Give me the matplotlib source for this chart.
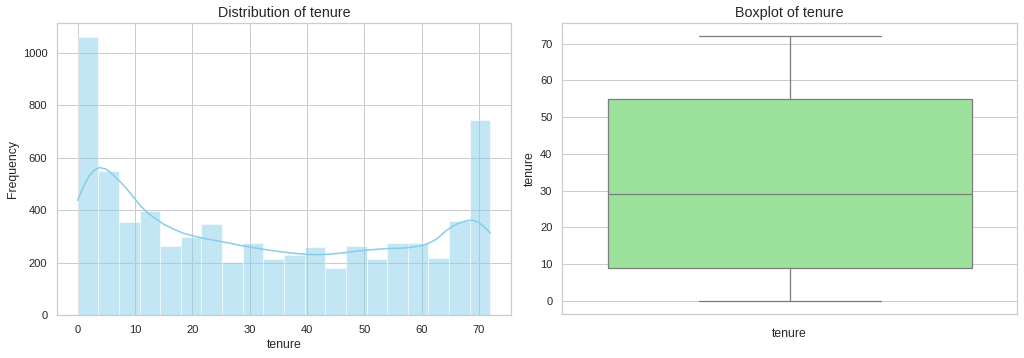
import numpy as np
import matplotlib
matplotlib.use("Agg")
import matplotlib.pyplot as plt
import seaborn as sns
import colorsys
from matplotlib.colors import to_rgb

# ---- data ----
bin_start = 0
bin_end = 72
hist_counts = [1060, 547, 354, 397, 262, 298, 345, 202, 275, 212,
               227, 261, 181, 263, 214, 275, 275, 217, 360, 743]

kde_x = [0, 0.9, 2.0, 2.9, 3.8, 5.0, 6.1, 7.3, 8.4, 9.9, 11.0, 12.2, 13.4,
         15.0, 16.9, 18.5, 20.4, 22.0, 23.8, 26.5, 28.2, 30.0, 31.7, 33.8,
         35.8, 37.9, 39.9, 41.6, 43.3, 45.0, 46.8, 48.5, 50.3, 52.0, 53.8,
         55.5, 57.3, 58.8, 60.2, 61.4, 62.5, 63.1, 64.2, 65.4, 66.3, 67.2,
         68.1, 69.0, 69.8, 70.4, 71.2, 72.0]
kde_y = [437, 485, 530, 552, 562, 556, 536, 511, 485, 445, 415, 390, 370,
         346, 326, 311, 300, 292, 285, 274, 266, 259, 253, 246,
         240, 235, 231, 230, 231, 234, 238, 243, 247, 250, 253,
         254, 256, 260, 265, 275, 288, 298, 320, 338, 348, 355,
         360, 361, 355, 345, 330, 312]

box_stats = dict(whislo=0, q1=9, med=29, q3=55, whishi=72)
var_name = "tenure"

# ---- style ----
sns.set_theme(style="whitegrid")
plt.rcParams['font.family'] = ['Liberation Sans', 'DejaVu Sans']

DPI = 1024 / 14
fig = plt.figure(figsize=(14, 358 / DPI), dpi=DPI)

W, H = 1024, 358
ax1 = fig.add_axes([57 / W, (H - 315) / H, (511 - 57) / W, (315 - 23) / H])
ax2 = fig.add_axes([562 / W, (H - 314) / H, (1017 - 562) / W, (314 - 23) / H])

# ---- histogram ----
n = len(hist_counts)
edges = np.linspace(bin_start, bin_end, n + 1)
width = edges[1] - edges[0]
ax1.bar(edges[:-1], hist_counts, width=width, align='edge',
        color='skyblue', alpha=0.5, edgecolor='white', linewidth=1.0)
ax1.plot(kde_x, kde_y, color='skyblue', linewidth=1.5)
ax1.set_xlim(bin_start - 0.05 * (bin_end - bin_start), bin_end + 0.05 * (bin_end - bin_start))
ax1.set_ylim(0, max(hist_counts) * 1.05)
ax1.set_xticks(np.arange(0, 71, 10))
ax1.set_yticks(np.arange(0, 1001, 200))
ax1.set_title(f"Distribution of {var_name}", fontsize=14)
ax1.set_xlabel(var_name)
ax1.set_ylabel("Frequency")

# ---- boxplot ----
box_color = sns.desaturate('lightgreen', 0.75)
lum = colorsys.rgb_to_hls(*to_rgb(box_color))[1] * 0.6
line_color = (lum + 0.04, lum + 0.04, lum + 0.04)
stats = [dict(box_stats, fliers=[], label="")]
ax2.bxp(stats, positions=[0], widths=0.8, patch_artist=True, showfliers=False,
        boxprops=dict(facecolor=box_color, edgecolor=line_color, linewidth=1.25),
        medianprops=dict(color=line_color, linewidth=1.25),
        whiskerprops=dict(color=line_color, linewidth=1.25),
        capprops=dict(color=line_color, linewidth=1.25),
        capwidths=0.4)
ax2.set_xlim(-0.5, 0.5)
rng = box_stats['whishi'] - box_stats['whislo']
ax2.set_ylim(box_stats['whislo'] - 0.05 * rng, box_stats['whishi'] + 0.05 * rng)
ax2.set_xticks([])
ax2.set_yticks(np.arange(0, 71, 10))
ax2.set_title(f"Boxplot of {var_name}", fontsize=14)
ax2.set_xlabel(var_name, labelpad=14)
ax2.set_ylabel(var_name)

fig.savefig("out.png", dpi=DPI)
